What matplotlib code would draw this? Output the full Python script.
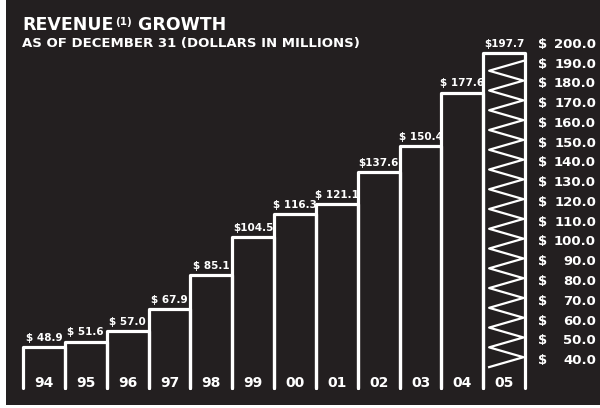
import numpy as np
import matplotlib.pyplot as plt
import matplotlib.transforms as mtransforms
from matplotlib.patches import Rectangle

# --- data ---
years = ['94', '95', '96', '97', '98', '99', '00', '01', '02', '03', '04', '05']
revenue = [48.9, 51.6, 57.0, 67.9, 85.1, 104.5, 116.3, 121.1, 137.6, 150.4, 177.6, 197.7]
value_labels = ['$ 48.9', '$ 51.6', '$ 57.0', '$ 67.9', '$ 85.1', '$104.5',
                '$ 116.3', '$ 121.1', '$137.6', '$ 150.4', '$ 177.6', '$197.7']
scale_ticks = list(range(40, 201, 10))

BG = '#231f20'
FG = 'white'
FONT = 'DejaVu Sans'

BAR_BASE = 28.0      # bars are open at the bottom, lines stop here
YEAR_Y = 30.5        # value level of the year labels

fig = plt.figure(figsize=(6.0, 4.08), dpi=100, facecolor='white')
fig.patches.append(Rectangle((6 / 600, 3 / 408), 1 - 6 / 600, 1 - 3 / 408,
                             transform=fig.transFigure, facecolor=BG,
                             edgecolor='none', zorder=-10))

ax = fig.add_axes([0, 0, 1, 1])
ax.set_facecolor('none')
ax.set_xlim(-1.05, 13.29)
ax.set_ylim(18.0, 224.5)
ax.axis('off')

for i, (v, lab, yr) in enumerate(zip(revenue, value_labels, years)):
    ax.plot([i - 0.5, i - 0.5, i + 0.5, i + 0.5], [BAR_BASE, v, v, BAR_BASE],
            color=FG, lw=2.3, solid_joinstyle='round', solid_capstyle='round')
    ax.annotate(lab, (i, v), xytext=(0, 3), textcoords='offset points',
                ha='center', va='bottom', color=FG, fontsize=7.5,
                fontweight='bold', family=FONT)
    ax.text(i, YEAR_Y, yr, ha='center', va='center', color=FG, fontsize=10,
            fontweight='bold', family=FONT)

# scribble fill on the latest year
last = len(revenue) - 1
zy = np.arange(revenue[last] - 4, 38, -5.0)
zx = np.where(np.arange(len(zy)) % 2 == 0, last + 0.46, last - 0.36)
ax.plot(zx, zy, color=FG, lw=1.6, solid_joinstyle='round')

# dollar scale on the right
trans = mtransforms.blended_transform_factory(fig.transFigure, ax.transData)
off = mtransforms.ScaledTranslation(0, 4 / 100, fig.dpi_scale_trans)
for t in scale_ticks:
    ax.text(538 / 600, t, '$', transform=trans + off, ha='left', va='center',
            color=FG, fontsize=9.5, fontweight='bold', family=FONT)
    ax.text(596 / 600, t, f'{t:.1f}', transform=trans + off, ha='right',
            va='center', color=FG, fontsize=9.5, fontweight='bold', family=FONT)

# title
t1 = fig.text(22 / 600, 1 - 30 / 408, 'REVENUE', color=FG, fontsize=12.5,
              fontweight='bold', family=FONT, va='baseline')
t2 = ax.annotate('(1)', xy=(1, 1), xycoords=t1, xytext=(1, -1),
                 textcoords='offset points', ha='left', va='top', color=FG,
                 fontsize=7.5, fontweight='bold', family=FONT)
ax.annotate(' GROWTH', xy=(1, 0), xycoords=(t2, t1), ha='left', va='bottom',
            color=FG, fontsize=12.5, fontweight='bold', family=FONT)
fig.text(22 / 600, 1 - 47 / 408, 'AS OF DECEMBER 31 (DOLLARS IN MILLIONS)',
         color=FG, fontsize=9.5, fontweight='bold', family=FONT, va='baseline')

fig.savefig('out.png', dpi=100, facecolor=fig.get_facecolor())
